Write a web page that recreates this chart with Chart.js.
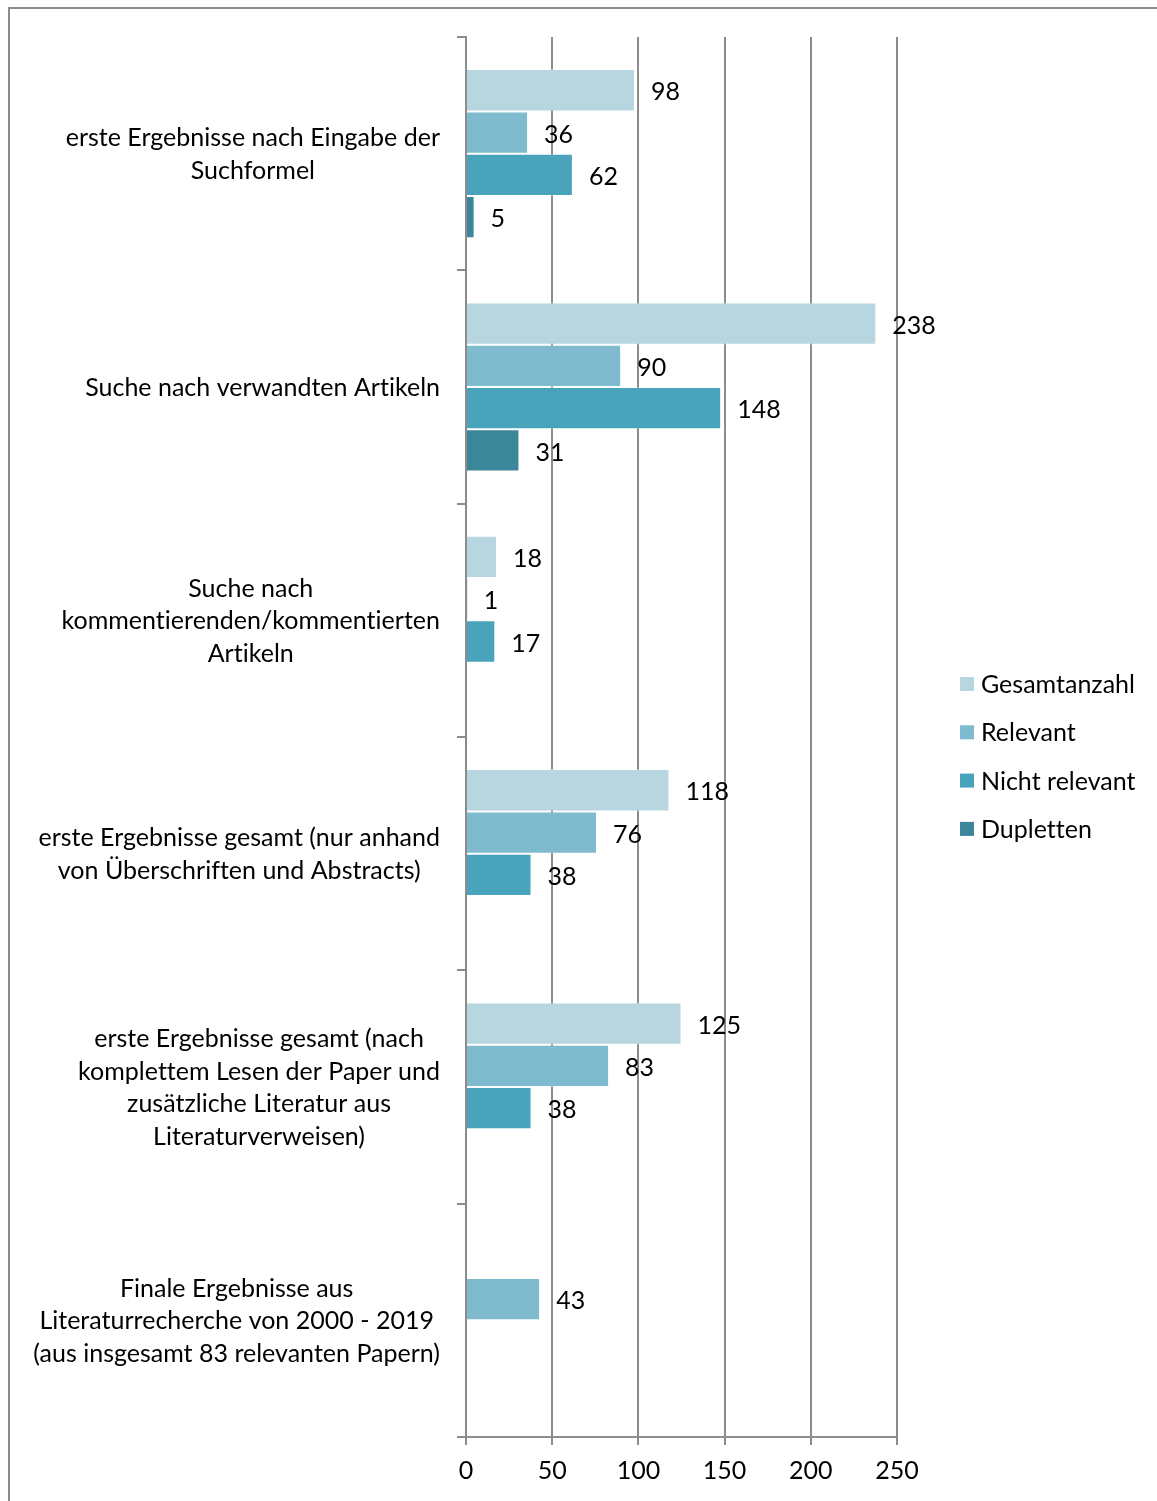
<!DOCTYPE html>
<html>
<head>
<meta charset="utf-8">
<script src="https://cdn.jsdelivr.net/npm/chart.js@4"></script>
<style>
  body { margin: 0; overflow: hidden; background: #fff; }
  #wrap { position: relative; width: 1157px; height: 1501px; }
  #frame { position: absolute; left: 8px; top: 7px; width: 1200px; height: 1600px;
           border-left: 2px solid #8c8c8c; border-top: 2px solid #8c8c8c; }
  #chart { position: absolute; left: 0; top: 0; }
</style>
</head>
<body>
<div id="wrap">
  <div id="frame"></div>
  <canvas id="chart" width="1157" height="1501"></canvas>
</div>
<script>
// categories (multi-line, as in the original)
const categories = [
    ['erste Ergebnisse nach Eingabe der', 'Suchformel'],
    ['Suche nach verwandten Artikeln'],
    ['Suche nach', 'kommentierenden/kommentierten', 'Artikeln'],
    ['erste Ergebnisse gesamt (nur anhand', 'von Überschriften und Abstracts)'],
    ['erste Ergebnisse gesamt (nach', 'komplettem Lesen der Paper und', 'zusätzliche Literatur aus', 'Literaturverweisen)'],
    ['Finale Ergebnisse aus', 'Literaturrecherche von 2000 - 2019', '(aus insgesamt 83 relevanten Papern)']
];

const seriesNames = ['Gesamtanzahl', 'Relevant', 'Nicht relevant', 'Dupletten'];
const gesamtanzahl = [98, 238, 18, 118, 125, null];
const relevant = [36, 90, 1, 76, 83, 43];
const nichtRelevant = [62, 148, 17, 38, 38, null];
const dupletten = [5, 31, null, null, null, null];
const xTicks = [0, 50, 100, 150, 200, 250];

const colors = ['#b7d6e0', '#7fbacf', '#48a3bb', '#3b8799'];
const FONT = 'Lato';
const FS = 25;
const gridGray = '#8c8c8c';

function setFont(ctx) {
    ctx.font = FS + 'px ' + FONT;
    ctx.letterSpacing = '0.01px'; // no ligatures, like the original
}

// category labels: block right-aligned, each line centered in the block
const catLabels = {
    id: 'catLabels',
    afterDraw(chart) {
        const ctx = chart.ctx;
        const y = chart.scales.y;
        const right = 440;
        const lh = 32.5;
        ctx.save();
        setFont(ctx);
        ctx.fillStyle = '#000';
        ctx.textAlign = 'center';
        ctx.textBaseline = 'middle';
        categories.forEach((lines, i) => {
            const cy = y.getPixelForValue(i);
            const w = Math.max(...lines.map(l => ctx.measureText(l).width));
            const cx = right - w / 2;
            const y0 = cy - (lines.length - 1) * lh / 2;
            lines.forEach((l, j) => ctx.fillText(l, cx, y0 + j * lh + 1));
        });
        ctx.restore();
    }
};

// value labels at the end of each bar
const valueLabels = {
    id: 'valueLabels',
    afterDatasetsDraw(chart) {
        const ctx = chart.ctx;
        ctx.save();
        setFont(ctx);
        ctx.fillStyle = '#000';
        ctx.textAlign = 'left';
        ctx.textBaseline = 'middle';
        chart.data.datasets.forEach((ds, di) => {
            const meta = chart.getDatasetMeta(di);
            meta.data.forEach((bar, i) => {
                const v = ds.data[i];
                if (v === null || v === undefined) return;
                ctx.fillText(String(v), bar.x + 16, bar.y + 2);
            });
        });
        ctx.restore();
    }
};

// legend on the right
const sideLegend = {
    id: 'sideLegend',
    afterDraw(chart) {
        const ctx = chart.ctx;
        const x = 960, y0 = 684, step = 48.3, box = 14;
        ctx.save();
        setFont(ctx);
        ctx.textBaseline = 'middle';
        ctx.textAlign = 'left';
        chart.data.datasets.forEach((ds, i) => {
            const cy = y0 + i * step;
            ctx.fillStyle = ds.backgroundColor;
            ctx.fillRect(x, cy - box / 2, box, box);
            ctx.fillStyle = '#000';
            ctx.fillText(ds.label, x + 21, cy + 1);
        });
        ctx.restore();
    }
};

const seriesData = [gesamtanzahl, relevant, nichtRelevant, dupletten];

new Chart(document.getElementById('chart'), {
    type: 'bar',
    data: {
        labels: categories.map(c => c.join(' ')),
        datasets: seriesNames.map((name, i) => ({
            label: name,
            data: seriesData[i],
            backgroundColor: colors[i],
            borderColor: 'rgba(255,255,255,0.35)',
            borderWidth: 1,
            categoryPercentage: 0.725,
            barPercentage: 1
        }))
    },
    options: {
        indexAxis: 'y',
        responsive: false,
        animation: false,
        layout: { padding: { top: 37, right: 260, left: 0, bottom: 0 } },
        plugins: {
            legend: { display: false },
            tooltip: { enabled: false }
        },
        scales: {
            x: {
                min: 0,
                max: 250,
                afterBuildTicks: s => { s.ticks = xTicks.map(v => ({ value: v })); },
                afterFit: s => { s.height = 64; },
                grid: { color: gridGray, lineWidth: 2, tickLength: 8 },
                border: { color: gridGray, width: 2 },
                ticks: {
                    color: '#000',
                    padding: 11,
                    font: { family: FONT, size: FS }
                }
            },
            y: {
                afterFit: s => { s.width = 466; },
                grid: { drawOnChartArea: false, color: gridGray, lineWidth: 2, tickLength: 9, offset: true },
                border: { color: gridGray, width: 2 },
                ticks: { display: false }
            }
        }
    },
    plugins: [catLabels, valueLabels, sideLegend]
});
</script>
</body>
</html>
